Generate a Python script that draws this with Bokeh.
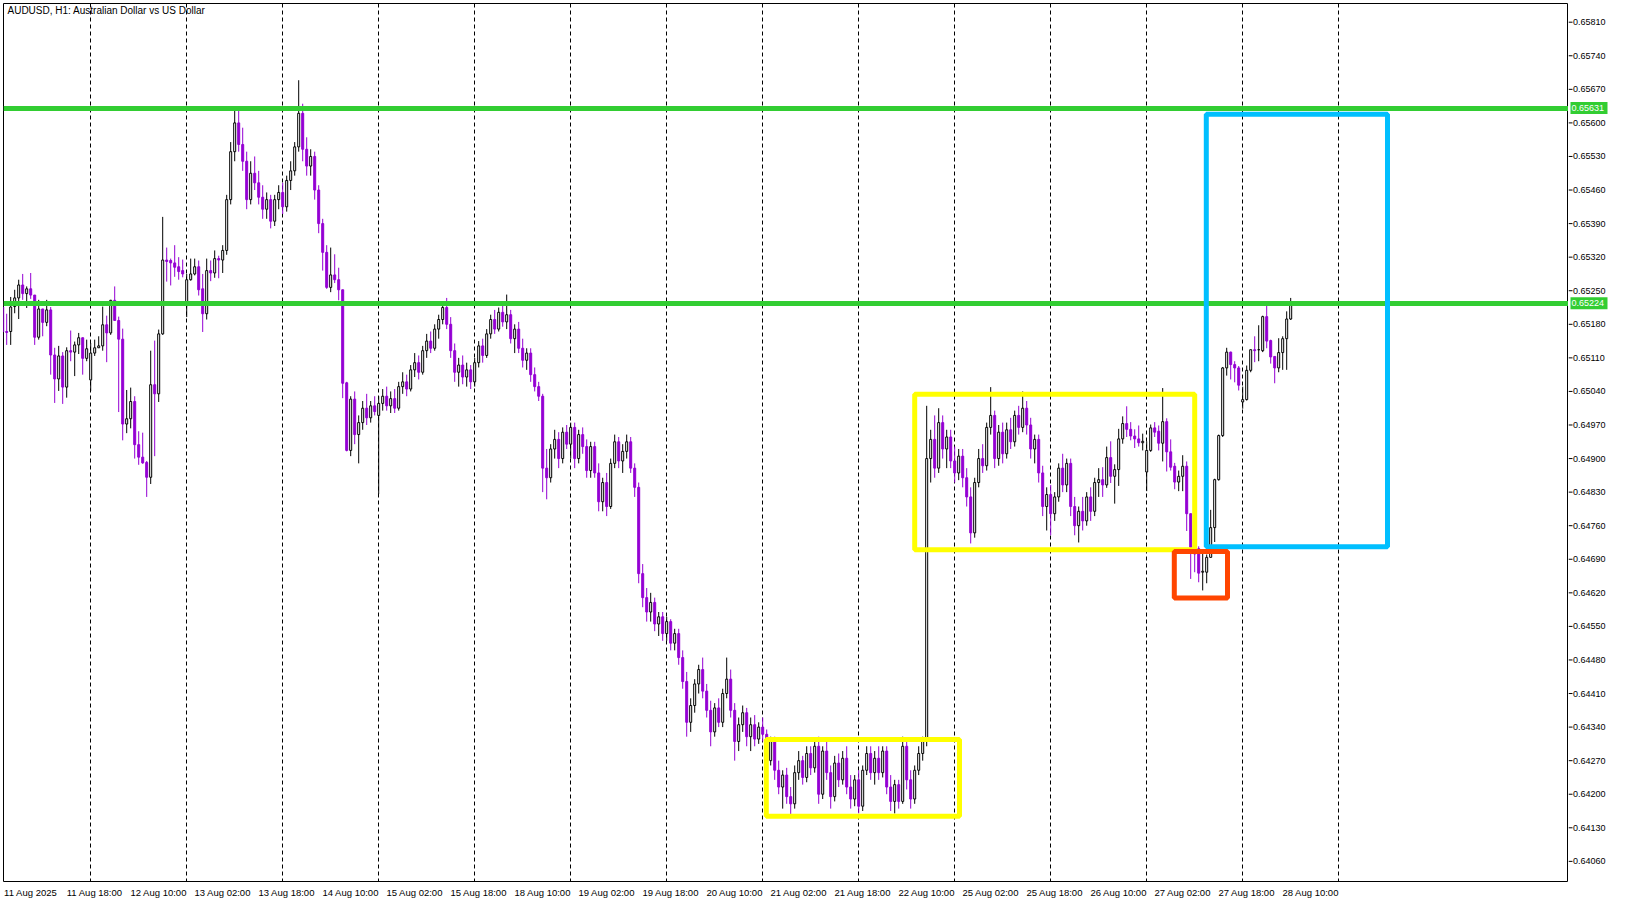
from bokeh.plotting import figure
from bokeh.models import Range1d, FixedTicker, Label
from bokeh.layouts import row
from bokeh.core.properties import value
from bokeh.embed import file_html
from bokeh.resources import INLINE

# ---------------- data (prices in 1e-5 units, hourly bars, bar index from 11 Aug 00:00) ----------------
first_bar = 2
opens = [
    65216,65165,65165,65217,65235,65262,65244,65254,65241,65153,
    65212,65184,65210,65116,65066,65114,65049,65125,65122,65137,
    65152,65109,65064,65120,65131,65135,65179,65162,65230,65188,
    65149,64972,64983,65019,64929,64903,64892,64861,65054,65035,
    65160,65314,65313,65308,65300,65292,65219,65273,65285,65300,
    65254,65202,65292,65287,65317,65314,65334,65440,65540,65600,
    65555,65520,65440,65495,65475,65445,65420,65440,65395,65440,
    65455,65425,65480,65500,65550,65620,65545,65510,65530,65460,
    65390,65330,65257,65283,65273,65252,65058,64917,65024,64950,
    64975,65005,64985,65010,64990,65015,65030,65010,65025,65005,
    65050,65060,65045,65085,65100,65080,65125,65145,65130,65170,
    65190,65215,65180,65125,65080,65095,65070,65085,65060,65100,
    65135,65115,65160,65190,65170,65205,65185,65200,65150,65170,
    65130,65105,65120,65075,65050,65030,64880,64860,64920,64940,
    64900,64955,64930,64965,64900,64950,64925,64875,64925,64870,
    64810,64850,64800,64890,64935,64895,64915,64935,64880,64840,
    64660,64610,64580,64600,64555,64570,64535,64560,64515,64535,
    64485,64435,64350,64385,64430,64460,64415,64375,64330,64380,
    64350,64410,64440,64375,64310,64345,64370,64320,64345,64315,
    64340,64325,64270,64310,64250,64215,64240,64195,64180,64245,
    64270,64235,64285,64255,64300,64200,64290,64245,64195,64265,
    64230,64275,64215,64190,64230,64175,64250,64285,64245,64275,
    64245,64290,64215,64185,64220,64185,64300,64230,64190,64250,
    64285,64310,64900,64940,64880,64975,64920,64945,64895,64870,
    64905,64860,64820,64745,64850,64900,64885,64965,64990,64900,
    64955,64910,64960,64935,64990,64965,65005,64970,64920,64940,
    64870,64800,64825,64785,64820,64880,64845,64890,64800,64760,
    64790,64770,64820,64790,64850,64856,64845,64902,64863,64877,
    64941,64973,64961,64947,64941,64933,64872,64917,64964,64957,
    64932,64977,64914,64884,64851,64863,64884,64785,64715,64712,
    64663,64663,64694,64756,64856,64948,65089,65122,65096,65089,
    65018,65023,65084,65127,65127,65125,65196,65146,65113,65089,
    65121,65150,65191,
]
highs = [
    65222,65202,65237,65252,65273,65285,65259,65287,65241,65231,
    65212,65231,65216,65131,65135,65122,65132,65167,65144,65162,
    65152,65148,65141,65148,65155,65217,65198,65231,65259,65196,
    65171,65043,65048,65030,64957,64954,64895,65125,65146,65169,
    65404,65340,65317,65345,65320,65315,65285,65317,65317,65313,
    65285,65317,65313,65334,65323,65345,65450,65560,65628,65628,
    65590,65540,65520,65530,65500,65470,65455,65450,65450,65470,
    65475,65490,65520,65560,65689,65640,65570,65545,65540,65470,
    65400,65345,65340,65326,65298,65252,65060,65030,65040,64990,
    65020,65035,65020,65030,65030,65045,65050,65040,65045,65060,
    65080,65075,65095,65120,65115,65135,65160,65165,65180,65200,
    65225,65235,65195,65140,65110,65115,65100,65095,65110,65145,
    65150,65170,65200,65210,65215,65220,65242,65210,65180,65185,
    65150,65130,65130,65090,65060,65035,64920,64930,64960,64955,
    64965,64970,64975,64975,64960,64965,64940,64935,64935,64890,
    64860,64870,64900,64950,64945,64930,64950,64945,64890,64850,
    64680,64630,64620,64610,64580,64580,64570,64565,64545,64545,
    64500,64455,64400,64440,64470,64485,64430,64395,64390,64400,
    64420,64485,64460,64390,64360,64385,64380,64360,64365,64350,
    64360,64335,64320,64320,64270,64250,64255,64215,64260,64290,
    64280,64300,64300,64310,64320,64300,64310,64260,64280,64285,
    64290,64300,64240,64240,64250,64260,64300,64300,64290,64300,
    64300,64300,64240,64230,64230,64320,64310,64250,64260,64300,
    64320,65010,64960,64990,65005,64990,64960,64960,64925,64920,
    64920,64880,64840,64860,64920,64930,64975,65049,65000,64970,
    64975,64975,64985,65000,65010,65040,65020,64985,64950,64950,
    64885,64840,64845,64830,64890,64910,64900,64900,64820,64800,
    64820,64830,64840,64860,64880,64882,64925,64936,64888,64962,
    64988,65009,64976,64961,64969,64952,64936,64971,64976,64969,
    65047,64984,64940,64891,64875,64907,64894,64785,64715,64717,
    64708,64700,64793,64858,64950,65091,65131,65123,65103,65093,
    65050,65094,65127,65155,65178,65198,65221,65148,65113,65151,
    65155,65207,65235,
]
lows = [
    65150,65137,65137,65203,65191,65231,65214,65233,65137,65148,
    65155,65176,65075,65016,65041,65014,65027,65103,65072,65118,
    65075,65103,65041,65114,65131,65125,65101,65158,65187,64997,
    64938,64953,64963,64900,64887,64889,64820,64847,64905,65018,
    65158,65269,65261,65279,65273,65278,65195,65271,65282,65240,
    65164,65190,65270,65277,65276,65287,65325,65430,65520,65540,
    65500,65420,65430,65460,65430,65400,65400,65380,65385,65420,
    65410,65415,65460,65490,65540,65520,65490,65490,65440,65370,
    65292,65254,65247,65266,65230,65026,64915,64905,64930,64890,
    64960,64970,64975,64990,64826,65000,65000,64995,64995,65000,
    65035,65030,65040,65070,65065,65075,65110,65120,65125,65150,
    65180,65170,65110,65060,65050,65055,65050,65045,65050,65090,
    65100,65110,65150,65160,65165,65175,65170,65140,65120,65120,
    65090,65085,65060,65040,65020,64830,64815,64850,64900,64880,
    64890,64920,64900,64880,64890,64910,64860,64860,64860,64790,
    64790,64780,64795,64880,64880,64870,64900,64870,64820,64640,
    64590,64560,64560,64540,64530,64520,64520,64500,64500,64470,
    64420,64320,64330,64370,64410,64400,64360,64300,64320,64340,
    64340,64400,64360,64270,64290,64330,64300,64290,64300,64305,
    64310,64250,64260,64230,64200,64170,64180,64150,64170,64230,
    64220,64225,64240,64245,64180,64190,64230,64170,64185,64215,
    64220,64200,64170,64175,64160,64165,64240,64230,64220,64230,
    64235,64200,64165,64160,64170,64180,64210,64170,64180,64240,
    64270,64300,64850,64860,64870,64900,64880,64880,64850,64855,
    64840,64800,64723,64735,64840,64870,64875,64950,64880,64885,
    64890,64900,64920,64925,64950,64955,64950,64900,64890,64850,
    64780,64750,64740,64770,64810,64830,64830,64780,64740,64725,
    64750,64760,64770,64780,64820,64820,64839,64849,64806,64843,
    64931,64945,64938,64922,64925,64917,64832,64914,64945,64917,
    64894,64873,64875,64836,64832,64832,64749,64649,64663,64642,
    64625,64640,64694,64726,64854,64945,65073,65065,65059,65042,
    65004,65021,65080,65101,65103,65122,65130,65098,65057,65080,
    65085,65085,65189,
]
closes = [
    65164,65163,65216,65235,65262,65244,65254,65241,65153,65212,
    65184,65210,65116,65066,65114,65049,65125,65122,65137,65152,
    65109,65129,65120,65131,65135,65179,65162,65230,65188,65149,
    64972,64983,65019,64929,64903,64891,64861,65054,65035,65160,
    65314,65311,65308,65299,65290,65285,65273,65285,65300,65252,
    65202,65292,65287,65317,65314,65334,65440,65540,65600,65555,
    65520,65440,65495,65475,65445,65420,65440,65395,65440,65455,
    65425,65480,65500,65550,65620,65545,65510,65530,65460,65390,
    65330,65257,65283,65273,65252,65057,64917,65024,64950,64975,
    65005,64985,65010,64998,65015,65030,65010,65025,65005,65050,
    65060,65045,65085,65100,65080,65125,65145,65130,65170,65190,
    65215,65180,65125,65080,65095,65070,65085,65060,65100,65135,
    65115,65160,65190,65170,65205,65185,65200,65150,65170,65130,
    65105,65120,65075,65050,65030,64880,64860,64920,64940,64900,
    64955,64930,64965,64900,64950,64925,64875,64925,64870,64810,
    64850,64800,64890,64935,64895,64915,64935,64880,64840,64660,
    64610,64580,64600,64555,64570,64535,64560,64515,64535,64485,
    64435,64350,64385,64430,64460,64415,64375,64330,64380,64350,
    64410,64440,64375,64310,64345,64370,64320,64345,64315,64340,
    64325,64270,64310,64250,64215,64240,64195,64180,64245,64270,
    64235,64285,64255,64300,64200,64290,64245,64195,64265,64230,
    64275,64215,64190,64230,64175,64250,64285,64245,64275,64245,
    64290,64215,64185,64220,64185,64300,64230,64190,64250,64285,
    64310,64900,64940,64880,64975,64920,64945,64895,64870,64905,
    64860,64820,64745,64850,64900,64885,64965,64990,64900,64955,
    64910,64960,64935,64990,64965,65005,64970,64920,64940,64870,
    64800,64825,64785,64820,64880,64845,64890,64800,64760,64790,
    64770,64820,64790,64850,64856,64845,64902,64863,64877,64941,
    64973,64961,64947,64941,64933,64936,64917,64964,64955,64932,
    64977,64914,64882,64851,64863,64884,64785,64715,64701,64661,
    64665,64694,64756,64856,64948,65089,65122,65096,65089,65053,
    65023,65084,65127,65125,65127,65196,65145,65112,65089,65121,
    65150,65191,65223,
]
PRICE_UNIT = 1e-5

x_tick_bars = [2, 18, 34, 50, 66, 82, 98, 114, 130, 146, 162, 178, 194, 210,
               226, 242, 258, 274, 290, 306, 322]
x_tick_labels = ["11 Aug 2025", "11 Aug 18:00", "12 Aug 10:00", "13 Aug 02:00",
                 "13 Aug 18:00", "14 Aug 10:00", "15 Aug 02:00", "15 Aug 18:00",
                 "18 Aug 10:00", "19 Aug 02:00", "19 Aug 18:00", "20 Aug 10:00",
                 "21 Aug 02:00", "21 Aug 18:00", "22 Aug 10:00", "25 Aug 02:00",
                 "25 Aug 18:00", "26 Aug 10:00", "27 Aug 02:00", "27 Aug 18:00",
                 "28 Aug 10:00"]
day_start_bars = [24, 48, 72, 96, 120, 144, 168, 192, 216, 240, 264, 288, 312, 336]
price_ticks = [0.64060, 0.64130, 0.64200, 0.64270, 0.64340, 0.64410, 0.64480,
               0.64550, 0.64620, 0.64690, 0.64760, 0.64830, 0.64900, 0.64970,
               0.65040, 0.65110, 0.65180, 0.65250, 0.65320, 0.65390, 0.65460,
               0.65530, 0.65600, 0.65670, 0.65740, 0.65810]
level_prices = [0.65631, 0.65224]
level_labels = ["0.65631", "0.65224"]
box_left = [192.9, 230.0, 302.9, 294.9]
box_right = [241.2, 300.0, 348.2, 308.2]
box_bottom = [0.64154, 0.64710, 0.64716, 0.64609]
box_top = [0.64314, 0.65034, 0.65618, 0.64706]
box_colors = ["#FFFF00", "#FFFF00", "#00BFFF", "#FF4500"]
title_text = "AUDUSD, H1:  Australian Dollar vs US Dollar"

# ---------------- build ----------------
BULL = "#000000"
BEAR = "#9400D3"
GREEN = "#32CD32"
FONT = "Liberation Sans"

n = len(opens)
idx = list(range(first_bar, first_bar + n))
o = [v * PRICE_UNIT for v in opens]
h = [v * PRICE_UNIT for v in highs]
l = [v * PRICE_UNIT for v in lows]
c = [v * PRICE_UNIT for v in closes]

bull = [i for i in range(n) if c[i] >= o[i]]
bear = [i for i in range(n) if c[i] < o[i]]

FW, FH = 1565, 878
BAR_PX = 4.0
PX_PER_PRICE = 47952.0
x0 = 2.2
y_top = 0.65849
yr = Range1d(y_top - FH / PX_PER_PRICE, y_top)

p = figure(frame_width=FW, frame_height=FH,
           x_range=Range1d(x0, x0 + FW / BAR_PX), y_range=yr,
           y_axis_location=None, x_axis_location="below",
           output_backend="svg", toolbar_location=None,
           min_border_left=3, min_border_top=3, min_border_right=0,
           background_fill_color="white", border_fill_color="white",
           outline_line_color="black", outline_line_width=1)
p.xgrid.visible = False
p.ygrid.visible = False

# time axis: labels start at their bar (MT5 style), so centre each label half its width to the right
LABEL_SHIFT = 7
xa = p.xaxis[0]
xa.ticker = FixedTicker(ticks=[b + LABEL_SHIFT for b in x_tick_bars])
xa.major_label_overrides = {b + LABEL_SHIFT: t for b, t in zip(x_tick_bars, x_tick_labels)}
xa.major_tick_out = 0
xa.major_tick_in = 0
xa.minor_tick_out = 0
xa.minor_tick_in = 0
xa.axis_line_color = None
xa.major_label_text_font = FONT
xa.major_label_text_font_size = "9.5px"
xa.major_label_text_color = "black"
xa.major_label_standoff = 5

# day separators (dashed)
p.vspan(x=day_start_bars, line_color="black", line_width=1, line_dash="4 3")

# candles: wicks then bodies
p.segment(x0=[idx[i] for i in bull], y0=[l[i] for i in bull],
          x1=[idx[i] for i in bull], y1=[h[i] for i in bull],
          line_color=BULL, line_width=1)
p.segment(x0=[idx[i] for i in bear], y0=[l[i] for i in bear],
          x1=[idx[i] for i in bear], y1=[h[i] for i in bear],
          line_color=BEAR, line_width=1)
p.vbar(x=[idx[i] for i in bull], width=0.5,
       top=[max(o[i], c[i]) for i in bull], bottom=[min(o[i], c[i]) for i in bull],
       fill_color="white", line_color=BULL, line_width=1)
p.vbar(x=[idx[i] for i in bear], width=0.5,
       top=[max(o[i], c[i]) for i in bear], bottom=[min(o[i], c[i]) for i in bear],
       fill_color=BEAR, line_color=BEAR, line_width=1)

# horizontal levels
p.hspan(y=level_prices, line_color=GREEN, line_width=5)

# boxes
p.quad(left=box_left, right=box_right, bottom=box_bottom, top=box_top,
       fill_alpha=0, line_color=box_colors, line_width=5)

# title text
p.add_layout(Label(x=4, y=FH - 7, x_units="screen", y_units="screen",
                   text=title_text, text_font=FONT, text_font_size="10px",
                   text_color="black", text_baseline="middle", text_align="left"))

# ---------------- price scale panel (shares the price range) ----------------
SW = 44
s = figure(frame_width=SW, frame_height=FH, x_range=Range1d(0, SW), y_range=yr,
           x_axis_location=None, y_axis_location=None,
           output_backend="svg", toolbar_location=None,
           min_border_left=0, min_border_right=0, min_border_top=3, min_border_bottom=0,
           background_fill_color="white", border_fill_color="white",
           outline_line_color=None)
s.xgrid.visible = False
s.ygrid.visible = False
tick_text = ["%.5f" % t for t in price_ticks]
s.segment(x0=0, x1=4, y0=price_ticks, y1=price_ticks, line_color="black", line_width=1)
s.text(x=4.5, y=price_ticks, text=tick_text, text_font=value(FONT),
       text_font_size=value("9px"), text_color="black",
       text_baseline="middle", text_align="left")
s.rect(x=20.5, y=level_prices, width=37, height=12, width_units="screen",
       height_units="screen", fill_color=GREEN, line_color=None)
s.text(x=3, y=level_prices, text=level_labels, text_font=value(FONT),
       text_font_size=value("9px"), text_color="white",
       text_baseline="middle", text_align="left")

layout = row(p, s, spacing=0)
open("out.html", "w").write(file_html(layout, INLINE))
